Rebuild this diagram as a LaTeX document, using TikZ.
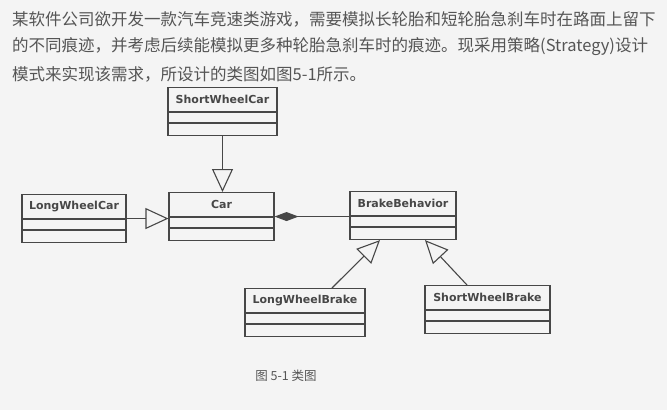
\documentclass[tikz,border=0pt]{standalone}
\usepackage{fontspec}
\newfontfamily\cjk{Noto Sans CJK SC}
\newfontfamily\umlfont{DejaVu Sans}[BoldFont={DejaVu Sans Bold}]
\usetikzlibrary{calc, arrows.meta}

\definecolor{paper}{HTML}{F4F4F4}
\definecolor{ink}{HTML}{474747}
\definecolor{txt}{HTML}{555555}

\tikzset{
    umlbox/.style={draw=ink, line width=1.1pt, minimum height=48pt, inner sep=0pt},
    umlname/.style={font=\umlfont\bfseries\fontsize{11}{13}\selectfont, text=ink},
    inherit/.style={draw=ink, line width=1.1pt,
        -{Triangle[open, length=23pt, width=21pt, line width=1.1pt]}},
    compose/.style={draw=ink, line width=1.1pt,
        {Diamond[length=24pt, width=9pt]}-}
}

% class box: name, centre x, top y, width, text
\newcommand{\umlclass}[5]{
    \node[umlbox, minimum width=#4pt, anchor=north] (#1) at (#2,#3) {};
    \draw[ink, line width=1.1pt] ($(#1.north west)+(0,25)$) -- ($(#1.north east)+(0,25)$);
    \draw[ink, line width=1.1pt] ($(#1.north west)+(0,36)$) -- ($(#1.north east)+(0,36)$);
    \node[umlname] at ($(#1.north)+(0,12.5)$) {#5};
}

\begin{document}
\begin{tikzpicture}[x=1pt, y=-1pt]
    \fill[paper] (0,0) rectangle (667,410);
    \useasboundingbox (0,0) rectangle (667,410);

    % question text
    \begin{scope}[every node/.style={anchor=west, inner sep=0pt, text=txt,
            font=\cjk\fontsize{16.5}{18}\selectfont}]
        \node (l1) at (12,19) {某软件公司欲开发一款汽车竞速类游戏，需要模拟长轮胎和短轮胎急刹车时在路面上留下};
        \node (l2) at (12,47) {的不同痕迹，并考虑后续能模拟更多种轮胎急刹车时的痕迹。现采用策略(Strategy)设计};
        \node (l3) at (12,74) {模式来实现该需求，所设计的类图如图5-1所示。};
    \end{scope}

    % classes
    \umlclass{swc}{222.5}{87}{109}{ShortWheelCar}
    \umlclass{car}{221.5}{192}{105}{Car}
    \umlclass{lwc}{74}{194}{104}{LongWheelCar}
    \umlclass{bb}{403}{191}{106}{BrakeBehavior}
    \umlclass{lwb}{305}{288}{120}{LongWheelBrake}
    \umlclass{swb}{487.5}{285}{125}{ShortWheelBrake}

    % relations
    \draw[inherit] (swc.south) -- (swc.south |- car.north);
    \draw[inherit] (lwc.east) -- (lwc.east -| car.west);
    \draw[compose] (car.east) -- (car.east -| bb.west);
    \draw[inherit] ($(lwb.north)+(27,0)$) -- ($(bb.south)+(-23,0)$);
    \draw[inherit] ($(swb.north)+(-20.5,0)$) -- ($(bb.south)+(22,0)$);

    \node[text=txt, font=\cjk\fontsize{12.5}{14}\selectfont] (cap) at (286,376) {图 5-1 类图};
\end{tikzpicture}
\end{document}
